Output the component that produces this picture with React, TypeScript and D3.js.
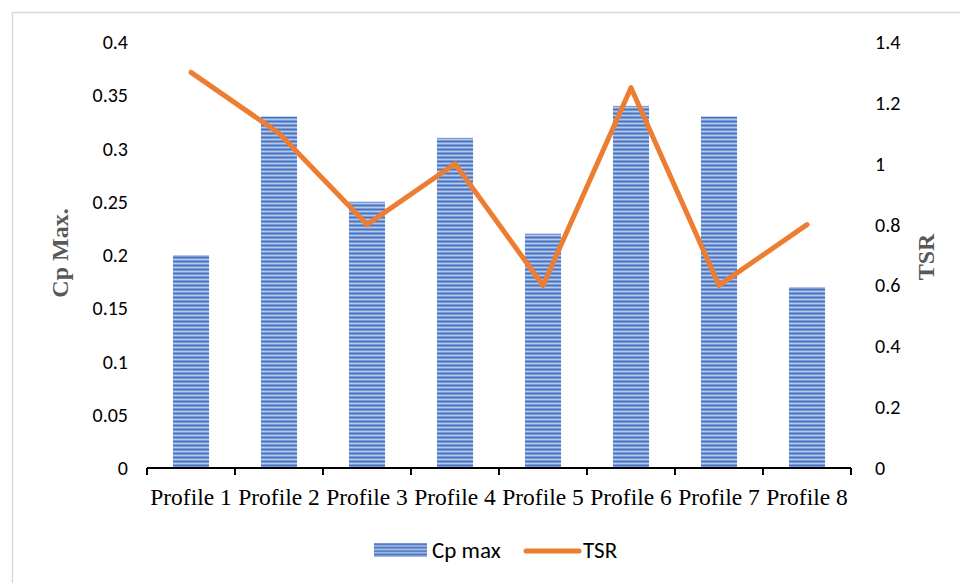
import React from "react";
import * as d3 from "d3";

const profiles = ["Profile 1", "Profile 2", "Profile 3", "Profile 4", "Profile 5", "Profile 6", "Profile 7", "Profile 8"];
const cpMax = [0.2, 0.33, 0.25, 0.31, 0.22, 0.34, 0.33, 0.17];
const tsr = [1.3, 1.1, 0.8, 1.0, 0.6, 1.25, 0.6, 0.8];
const leftTicks = [0, 0.05, 0.1, 0.15, 0.2, 0.25, 0.3, 0.35, 0.4];
const rightTicks = [0, 0.2, 0.4, 0.6, 0.8, 1, 1.2, 1.4];

const W = 960;
const H = 583;
const plot = { left: 147, right: 851, top: 42, bottom: 468 };

export default function App() {
  const x = d3.scaleBand<string>().domain(profiles).range([plot.left, plot.right]).paddingInner(0.59).paddingOuter(0.295);
  const xOuter = d3.scaleBand<string>().domain(profiles).range([plot.left, plot.right]);
  const yL = d3.scaleLinear().domain([0, 0.4]).range([plot.bottom, plot.top]);
  const yR = d3.scaleLinear().domain([0, 1.4]).range([plot.bottom, plot.top]);

  const line = d3
    .line<number>()
    .x((_, i) => (xOuter(profiles[i]) as number) + xOuter.bandwidth() / 2)
    .y((d) => yR(d));

  const sans = "Carlito, 'Liberation Sans Narrow', 'Liberation Sans', sans-serif";
  const serif = "'Liberation Serif', 'Times New Roman', serif";
  const orange = "#ED7D31";

  const boundaries = d3.range(profiles.length + 1).map((i) => plot.left + i * xOuter.step());

  return (
    <svg width={W} height={H} style={{ position: "absolute", left: 0, top: 0 }}>
      <defs>
        <pattern id="stripes" width="8" height="4" patternUnits="userSpaceOnUse">
          <rect width="8" height="4" fill="#b4c7e7" />
          <rect y="0.5" width="8" height="2" fill="#4472C4" />
        </pattern>
        <pattern id="stripesLegend" width="8" height="3.4" patternUnits="userSpaceOnUse" y="543">
          <rect width="8" height="3.4" fill="#b4c7e7" />
          <rect y="0.4" width="8" height="1.8" fill="#4472C4" />
        </pattern>
      </defs>
      <rect width={W} height={H} fill="#fff" />
      <rect x={12.5} y={12.5} width={W} height={H} fill="none" stroke="#d9d9d9" strokeWidth={1.5} />

      {/* bars */}
      {cpMax.map((v, i) => (
        <rect
          key={profiles[i]}
          x={x(profiles[i])}
          y={yL(v)}
          width={x.bandwidth()}
          height={plot.bottom - yL(v)}
          fill="url(#stripes)"
        />
      ))}

      {/* x axis */}
      <line x1={plot.left} x2={plot.right} y1={plot.bottom} y2={plot.bottom} stroke="#000" strokeWidth={2} />
      {boundaries.map((bx, i) => (
        <line key={i} x1={bx} x2={bx} y1={plot.bottom} y2={plot.bottom + 7} stroke="#000" strokeWidth={2} />
      ))}
      {profiles.map((p) => (
        <text
          key={p}
          x={(xOuter(p) as number) + xOuter.bandwidth() / 2}
          y={505}
          textAnchor="middle"
          fontFamily={serif}
          fontSize={23.5}
          fill="#000"
        >
          {p}
        </text>
      ))}

      {/* TSR line */}
      <path d={line(tsr) || ""} fill="none" stroke={orange} strokeWidth={5} strokeLinejoin="round" strokeLinecap="round" />

      {/* left axis labels */}
      {leftTicks.map((t) => (
        <text key={t} x={128} y={yL(t) + 7} textAnchor="end" fontFamily={sans} fontSize={20} fill="#000">
          {String(t)}
        </text>
      ))}
      {/* right axis labels */}
      {rightTicks.map((t) => (
        <text key={t} x={875} y={yR(t) + 7} textAnchor="start" fontFamily={sans} fontSize={20} fill="#000">
          {String(t)}
        </text>
      ))}

      {/* axis titles */}
      <text
        transform={`translate(68,253) rotate(-90)`}
        textAnchor="middle"
        fontFamily={serif}
        fontWeight="bold"
        fontSize={24}
        fill="#595959"
      >
        Cp Max.
      </text>
      <text
        transform={`translate(934,257) rotate(-90)`}
        textAnchor="middle"
        fontFamily={serif}
        fontWeight="bold"
        fontSize={24}
        fill="#595959"
      >
        TSR
      </text>

      {/* legend */}
      <rect x={374} y={543} width={53} height={14} fill="url(#stripesLegend)" />
      <text x={432} y={558} fontFamily={sans} fontSize={23} fill="#000">
        Cp max
      </text>
      <line x1={526} x2={579} y1={551} y2={551} stroke={orange} strokeWidth={5} strokeLinecap="round" />
      <text x={583} y={558} fontFamily={sans} fontSize={23} fill="#000">
        TSR
      </text>
    </svg>
  );
}
